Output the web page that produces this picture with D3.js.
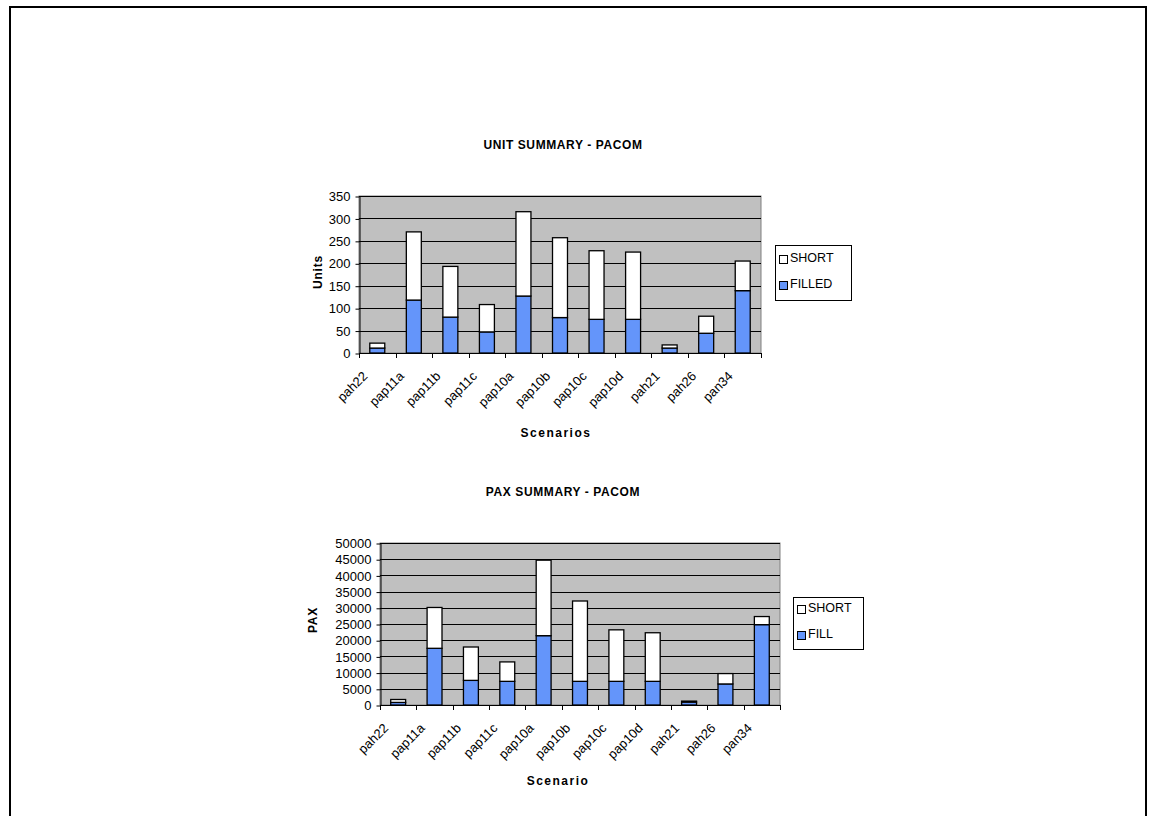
<!DOCTYPE html>
<html><head><meta charset="utf-8">
<script src="https://cdn.jsdelivr.net/npm/d3@7"></script>
<style>
html,body{margin:0;padding:0;background:#fff;}
svg text{font-family:"Liberation Sans",Arial,sans-serif;fill:#000;}
</style></head>
<body>
<svg id="c" width="1151" height="816"></svg>
<script>
const scenarios = ["pah22","pap11a","pap11b","pap11c","pap10a","pap10b","pap10c","pap10d","pah21","pah26","pan34"];
// Unit summary (FILLED + SHORT = total)
const unitFilled = [11,118,80,47,127,79,75,75,11,44,139];
const unitShort  = [11,152,113,61,188,178,153,150,7,38,66];
const unitTicks  = [0,50,100,150,200,250,300,350];
// PAX summary (FILL + SHORT = total)
const paxFill  = [800,17500,7600,7300,21400,7300,7300,7300,900,6500,24800];
const paxShort = [900,12600,10300,6000,23300,24800,15900,15000,300,3200,2500];
const paxTicks = [0,5000,10000,15000,20000,25000,30000,35000,40000,45000,50000];

const svg = d3.select("#c");
const BLUE = "#6495fa";

svg.append("rect").attr("x",10).attr("y",7).attr("width",1136).attr("height",860)
  .attr("fill","none").attr("stroke","#000").attr("stroke-width",2);

function chart(cfg){
  const g = svg.append("g");
  const x = d3.scaleBand().domain(scenarios).range([cfg.x0,cfg.x1]).paddingInner(0.59).paddingOuter(0.295);
  const y = d3.scaleLinear().domain([0,cfg.max]).range([cfg.yb,cfg.yt]);
  const step = x.step();
  g.append("rect").attr("x",cfg.x0).attr("y",cfg.yt).attr("width",cfg.x1-cfg.x0).attr("height",cfg.yb-cfg.yt)
    .attr("fill","#c0c0c0").attr("stroke","#808080").attr("stroke-width",1);
  g.selectAll(".grid").data(cfg.ticks).join("line")
    .attr("x1",cfg.x0).attr("x2",cfg.x1).attr("y1",d=>Math.round(y(d))+0.5).attr("y2",d=>Math.round(y(d))+0.5)
    .attr("stroke","#000").attr("stroke-width",1);
  const ya = d3.axisLeft(y).tickValues(cfg.ticks).tickFormat(d3.format("d")).tickSize(4).tickSizeOuter(0).tickPadding(5);
  const yg = g.append("g").attr("transform",`translate(${cfg.x0+0.5},0.5)`).call(ya);
  yg.selectAll("text").style("font-size","13px").attr("fill","#000");
  yg.selectAll("line,path").attr("stroke","#000");
  g.append("line").attr("x1",cfg.x0).attr("x2",cfg.x1).attr("y1",cfg.yb+0.5).attr("y2",cfg.yb+0.5).attr("stroke","#000");
  g.selectAll(".xt").data(d3.range(scenarios.length+1)).join("line")
    .attr("x1",i=>Math.round(cfg.x0+i*step)+0.5).attr("x2",i=>Math.round(cfg.x0+i*step)+0.5)
    .attr("y1",cfg.yb).attr("y2",cfg.yb+5).attr("stroke","#000");
  const rows = scenarios.map((s,i)=>({s, fill:cfg.a[i], short:cfg.b[i]}));
  const stack = d3.stack().keys(["fill","short"])(rows);
  const colors = {fill:BLUE, short:"#ffffff"};
  stack.forEach(layer=>{
    g.selectAll(".b"+layer.key).data(layer).join("rect")
      .attr("x",d=>x(d.data.s)).attr("width",x.bandwidth())
      .attr("y",d=>y(d[1])).attr("height",d=>y(d[0])-y(d[1]))
      .attr("fill",colors[layer.key]).attr("stroke","#000").attr("stroke-width",1.3);
  });
  g.selectAll(".xl").data(scenarios).join("text")
    .attr("transform",d=>`translate(${x(d)+x.bandwidth()/2-9},${cfg.yb+24}) rotate(-45)`)
    .attr("text-anchor","end").style("font-size","13px").text(d=>d);
  g.append("text").attr("x",cfg.tx).attr("y",cfg.ty).attr("text-anchor","middle")
    .style("font-size","12px").style("font-weight","bold").style("letter-spacing","0.6px").text(cfg.title);
  g.append("text").attr("x",cfg.xtx).attr("y",cfg.xty).attr("text-anchor","middle")
    .style("font-size","12px").style("font-weight","bold").style("letter-spacing","1.5px").text(cfg.xtitle);
  g.append("text").attr("transform",`translate(${cfg.ytx},${cfg.yty}) rotate(-90)`).attr("text-anchor","middle")
    .style("font-size","12px").style("font-weight","bold").style("letter-spacing","0.8px").text(cfg.ytitle);
  const L = cfg.leg;
  g.append("rect").attr("x",L.x+0.5).attr("y",L.y+0.5).attr("width",L.w).attr("height",L.h)
    .attr("fill","#fff").attr("stroke","#000").attr("stroke-width",1);
  const items = [{k:"SHORT",c:"#fff"},{k:L.fillName,c:BLUE}];
  items.forEach((it,i)=>{
    const cy = L.y + L.r0 + i*L.dy;
    g.append("rect").attr("x",L.x+4.5).attr("y",cy-3.5).attr("width",8).attr("height",8)
      .attr("fill",it.c).attr("stroke","#000").attr("stroke-width",1);
    g.append("text").attr("x",L.x+15).attr("y",cy+3).style("font-size","12.5px").text(it.k);
  });
}

chart({x0:359,x1:761,yt:196,yb:353,max:350,ticks:unitTicks,a:unitFilled,b:unitShort,
  title:"UNIT SUMMARY - PACOM",tx:563,ty:149,xtitle:"Scenarios",xtx:556,xty:437,
  ytitle:"Units",ytx:322,yty:272,
  leg:{x:775,y:245,w:76,h:55,r0:14,dy:26,fillName:"FILLED"}});

chart({x0:380,x1:780,yt:543,yb:705,max:50000,ticks:paxTicks,a:paxFill,b:paxShort,
  title:"PAX SUMMARY - PACOM",tx:563,ty:496,xtitle:"Scenario",xtx:558,xty:785,
  ytitle:"PAX",ytx:317,yty:620,
  leg:{x:793,y:597,w:70,h:52,r0:12,dy:26,fillName:"FILL"}});
</script>
</body></html>
